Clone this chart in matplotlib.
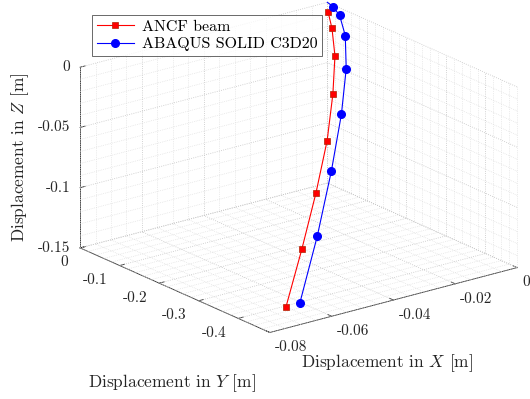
import numpy as np
import matplotlib
matplotlib.use('Agg')
import matplotlib.pyplot as plt
from mpl_toolkits.mplot3d import proj3d

plt.rcParams['font.family'] = 'cmr10'
plt.rcParams['mathtext.fontset'] = 'cm'
plt.rcParams['axes.unicode_minus'] = False

# ---------------- data ----------------
ancf_x = [-0.00234, -0.00745, -0.01417, -0.02379, -0.0346, -0.04715, -0.0607, -0.0748]
ancf_y = [-0.02, -0.07, -0.13, -0.20, -0.27, -0.34, -0.41, -0.48]
ancf_z = [-0.00326, -0.00646, -0.01593, -0.0309, -0.0520, -0.0766, -0.1042, -0.1325]

abq_x = [0.0, -0.00046, -0.00243, -0.00827, -0.01692, -0.02742, -0.0409, -0.0557, -0.0703]
abq_y = [0.0, -0.018, -0.05, -0.11, -0.18, -0.25, -0.33, -0.41, -0.48]
abq_z = [0.0, -0.00065, -0.00191, -0.0059, -0.01737, -0.0378, -0.0642, -0.0967, -0.1322]

x_ticks = [-0.08, -0.06, -0.04, -0.02, 0.0]
x_ticklabels = ['-0.08', '-0.06', '-0.04', '-0.02', '0']
y_ticks = [-0.4, -0.3, -0.2, -0.1, 0.0]
y_ticklabels = ['-0.4', '-0.3', '-0.2', '-0.1', '0']
z_ticks = [-0.15, -0.1, -0.05, 0.0]
z_ticklabels = ['-0.15', '-0.1', '-0.05', '0']

xlim = (-0.08, 0.0)
ylim = (-0.48, 0.0)
zlim = (-0.15, 0.0)
x_minor_step, y_minor_step, z_minor_step = 0.005, 0.02, 0.01

# ---------------- figure ----------------
W, H = 530, 399
fig = plt.figure(figsize=(W / 100, H / 100), dpi=100)
ax = fig.add_axes([0, 0, 1, 1], projection='3d')
ax.set_proj_type('ortho')
ax.view_init(elev=20, azim=-127.5)
ax.set_box_aspect((1, 1, 0.617))
ax.set_xlim(*xlim)
ax.set_ylim(*ylim)
ax.set_zlim(*zlim)
ax.computed_zorder = False
ax.grid(False)

for axis in (ax.xaxis, ax.yaxis, ax.zaxis):
    axis.pane.set_fill(False)
    axis.pane.set_edgecolor((1, 1, 1, 0))
    axis.line.set_color('#262626')
    axis.line.set_linewidth(0.6)
    axis._axinfo['tick']['inward_factor'] = 0.0
    axis._axinfo['tick']['outward_factor'] = 0.25
    axis._axinfo['tick']['linewidth'] = {True: 0.6, False: 0.5}

ax.set_xticks(x_ticks)
ax.set_yticks(y_ticks)
ax.set_zticks(z_ticks)
ax.set_xticklabels([])
ax.set_yticklabels([])
ax.set_zticklabels([])
ax.tick_params(colors='#262626')

# grid lines on back panes (X=0 wall, Y=0 wall, floor)
def gl(xs, ys, zs, major):
    ax.plot(xs, ys, zs, color='#c4c4c4' if major else '#dadada',
            lw=0.6 if major else 0.5, ls=':', zorder=1)

def is_major(v, ticks):
    return any(abs(v - t) < 1e-9 for t in ticks)

xg = np.round(np.arange(xlim[0], xlim[1] + 1e-9, x_minor_step), 4)
yg = np.round(np.arange(0.0, ylim[0] - 1e-9, -y_minor_step), 4)
zg = np.round(np.arange(zlim[0], zlim[1] + 1e-9, z_minor_step), 4)
for xv in xg:
    gl([xv, xv], [0, 0], list(zlim), is_major(xv, x_ticks))
    gl([xv, xv], list(ylim), [zlim[0]] * 2, is_major(xv, x_ticks))
for yv in yg:
    gl([0, 0], [yv, yv], list(zlim), is_major(yv, y_ticks))
    gl(list(xlim), [yv, yv], [zlim[0]] * 2, is_major(yv, y_ticks))
for zv in zg:
    gl(list(xlim), [0, 0], [zv, zv], is_major(zv, z_ticks))
    gl([0, 0], list(ylim), [zv, zv], is_major(zv, z_ticks))

l1, = ax.plot(ancf_x, ancf_y, ancf_z, color='red', lw=0.8, marker='s',
              markersize=4.8, markerfacecolor='red', markeredgecolor='#b02000',
              markeredgewidth=0.5, zorder=5, label='ANCF beam')
l2, = ax.plot(abq_x, abq_y, abq_z, color='blue', lw=0.8, marker='o',
              markersize=5.5, markerfacecolor='blue', markeredgecolor='blue',
              markevery=list(range(1, len(abq_x))), zorder=6,
              label='ABAQUS SOLID C3D20')

# ------------- fit the box to the reference layout -------------
def to_screen(xs, ys, zs):
    M = ax.get_proj()
    px, py, _ = proj3d.proj_transform(np.asarray(xs, float), np.asarray(ys, float),
                                      np.asarray(zs, float), M)
    return ax.transData.transform(np.column_stack([px, py]))

targets = np.array([[270, H - 332], [80, H - 248], [517, H - 268]], float)
cx = [xlim[0], xlim[0], xlim[1]]
cy = [ylim[0], ylim[1], ylim[0]]
cz = [zlim[0], zlim[0], zlim[0]]
for _ in range(3):
    fig.canvas.draw()
    pts = to_screen(cx, cy, cz)
    b = ax.get_position(original=True)
    x0, y0, w, h = b.x0, b.y0, b.width, b.height
    k = (targets[2, 0] - targets[1, 0]) / (pts[2, 0] - pts[1, 0])
    c = np.array([(x0 + w / 2) * W, (y0 + h / 2) * H])
    newpts = c + k * (pts - c)
    t = targets.mean(0) - newpts.mean(0)
    nc = c + t
    nw, nh = w * k, h * k
    ax.set_position([nc[0] / W - nw / 2, nc[1] / H - nh / 2, nw, nh])
fig.canvas.draw()

# tick labels placed at projected tick locations
tick_color = '#262626'
xs_ = to_screen(x_ticks, [ylim[0]] * len(x_ticks), [zlim[0]] * len(x_ticks))
for (sx, sy), lab in zip(xs_, x_ticklabels):
    fig.text((sx + 5) / W, (sy - 15) / H, lab, ha='left', va='center',
             fontsize=11, color=tick_color)
ys_ = to_screen([xlim[0]] * len(y_ticks), y_ticks, [zlim[0]] * len(y_ticks))
for (sx, sy), lab in zip(ys_, y_ticklabels):
    fig.text((sx - 12) / W, (sy - 14.5) / H, lab, ha='right', va='center',
             fontsize=11, color=tick_color)
zs_ = to_screen([xlim[0]] * len(z_ticks), [ylim[1]] * len(z_ticks), z_ticks)
for (sx, sy), lab in zip(zs_, z_ticklabels):
    fig.text((sx - 10) / W, sy / H, lab, ha='right', va='center',
             fontsize=11, color=tick_color)

# axis labels
fig.text(20 / W, 1 - 157 / H, 'Displacement in $Z$ [m]', rotation=90,
         ha='center', va='center', fontsize=12.5, color=tick_color)
fig.text(172 / W, 1 - 383 / H, 'Displacement in $Y$ [m]',
         ha='center', va='center', fontsize=12.5, color=tick_color)
fig.text(387 / W, 1 - 363 / H, 'Displacement in $X$ [m]',
         ha='center', va='center', fontsize=12.5, color=tick_color)

leg = ax.legend(handles=[l1, l2], loc='upper left',
                bbox_to_anchor=(92 / W, 1 - 15 / H), bbox_transform=fig.transFigure,
                prop={'family': 'cmr10', 'size': 11.5}, frameon=True, fancybox=False,
                borderaxespad=0, handlelength=2.3, borderpad=0.3,
                labelspacing=0.2, handletextpad=0.5)
leg.get_frame().set_edgecolor('#262626')
leg.get_frame().set_linewidth(0.6)

fig.savefig('out.png', dpi=100)
